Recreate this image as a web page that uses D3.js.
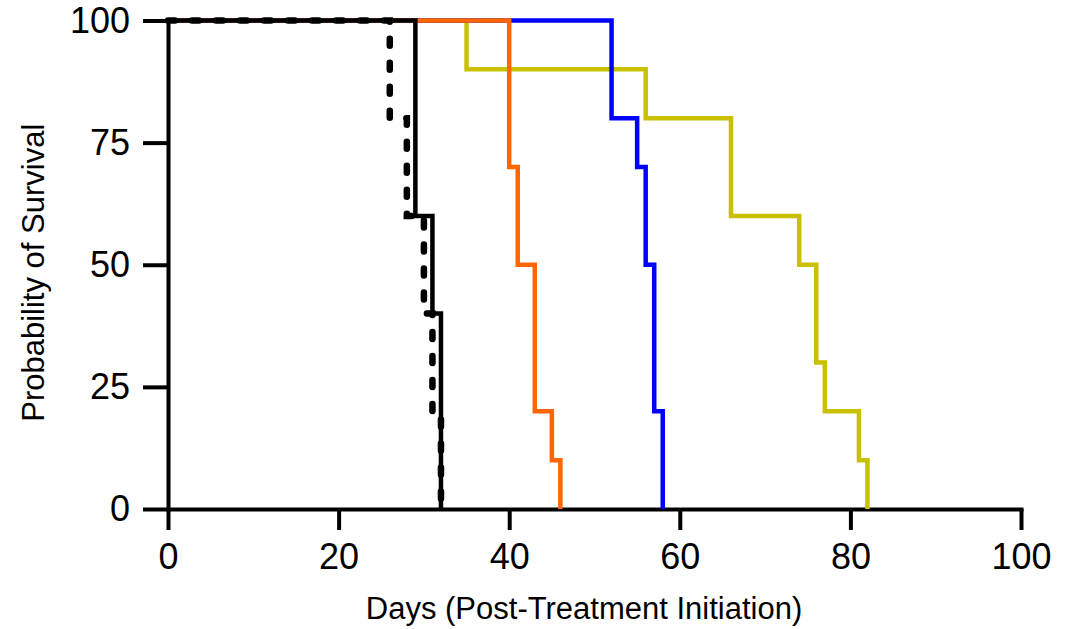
<!DOCTYPE html>
<html>
<head>
<meta charset="utf-8">
<script src="https://cdn.jsdelivr.net/npm/d3@7"></script>
<style>
  html, body { margin: 0; padding: 0; background: #fff; }
  svg { display: block; }
  text { font-family: "Liberation Sans", Arial, sans-serif; fill: #000; }
</style>
</head>
<body>
<svg id="chart" width="1073" height="629"></svg>
<script>
// ---- data ----
const xTicks = [0, 20, 40, 60, 80, 100];
const yTicks = [0, 25, 50, 75, 100];

const yellowDays = [0, 35, 56, 66, 74, 76, 77, 81, 82];
const yellowSurv = [100, 90, 80, 60, 50, 30, 20, 10, 0];

const blueDays = [0, 52, 55, 56, 57, 58];
const blueSurv = [100, 80, 70, 50, 20, 0];

const orangeDays = [0, 40, 41, 43, 45, 46];
const orangeSurv = [100, 70, 50, 20, 10, 0];

const dashedDays = [0, 26, 28, 30, 31, 32];
const dashedSurv = [100, 80, 60, 40, 20, 0];

const solidDays = [0, 29, 31, 32];
const solidSurv = [100, 60, 40, 0];

const xTitle = "Days (Post-Treatment Initiation)";
const yTitle = "Probability of Survival";

// ---- drawing ----
const svg = d3.select("#chart");
const x = d3.scaleLinear().domain([0, 100]).range([168, 1021]);
const y = d3.scaleLinear().domain([0, 100]).range([509, 20.5]);

const line = d3.line()
  .x(d => x(d[0]))
  .y(d => y(d[1]))
  .curve(d3.curveStepAfter);

const series = [
  { days: yellowDays, surv: yellowSurv, color: "#C8C000", width: 4.5, dash: null },
  { days: blueDays, surv: blueSurv, color: "#0000FF", width: 4.5, dash: null },
  { days: orangeDays, surv: orangeSurv, color: "#FF6600", width: 4.5, dash: null },
  { days: dashedDays, surv: dashedSurv, color: "#000000", width: 6.5, dash: "7,17" },
  { days: solidDays, surv: solidSurv, color: "#000000", width: 4.5, dash: null }
];

// axes
const xAxis = d3.axisBottom(x).tickValues(xTicks).tickSize(21).tickSizeOuter(0).tickPadding(13);
const yAxis = d3.axisLeft(y).tickValues(yTicks).tickSize(25).tickSizeOuter(0).tickPadding(13);

const gx = svg.append("g").attr("transform", `translate(0,${y(0)})`).call(xAxis);
const gy = svg.append("g").attr("transform", `translate(${x(0)},0)`).call(yAxis);

[gx, gy].forEach(g => {
  g.selectAll("path.domain").attr("stroke", "#000").attr("stroke-width", 4).attr("stroke-linecap", "square");
  g.selectAll(".tick line").attr("stroke", "#000").attr("stroke-width", 4);
  g.selectAll(".tick text")
    .style("font-family", '"Liberation Sans", Arial, sans-serif')
    .attr("font-size", 36)
    .attr("fill", "#000");
});

// series
series.forEach(s => {
  const pts = s.days.map((d, i) => [d, s.surv[i]]);
  const p = svg.append("path")
    .datum(pts)
    .attr("d", line)
    .attr("fill", "none")
    .attr("stroke", s.color)
    .attr("stroke-width", s.width)
    .attr("stroke-linejoin", "miter");
  if (s.dash) {
    p.attr("stroke-dasharray", s.dash).attr("stroke-linecap", "round");
  }
});

// axis titles
svg.append("text")
  .attr("x", 584)
  .attr("y", 619)
  .attr("text-anchor", "middle")
  .attr("font-size", 31)
  .text(xTitle);

svg.append("text")
  .attr("transform", `translate(44,${(y(0) + y(100)) / 2 + 8}) rotate(-90)`)
  .attr("text-anchor", "middle")
  .attr("font-size", 31)
  .text(yTitle);
</script>
</body>
</html>
